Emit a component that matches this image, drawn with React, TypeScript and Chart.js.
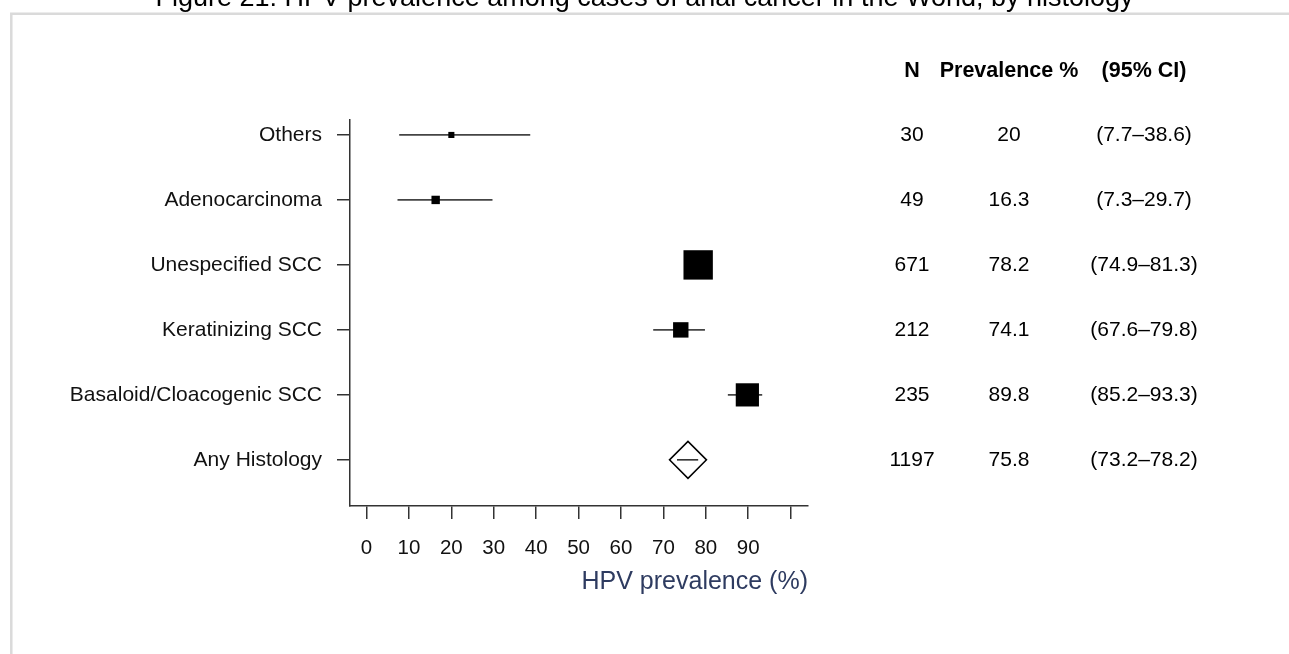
import { useEffect, useRef } from 'react';
import { Chart, registerables } from 'chart.js';

Chart.register(...registerables);

// ---- data ----
const categories = [
  'Others',
  'Adenocarcinoma',
  'Unespecified SCC',
  'Keratinizing SCC',
  'Basaloid/Cloacogenic SCC',
  'Any Histology',
];
const nCases = [30, 49, 671, 212, 235, 1197];
const prevalence = [20, 16.3, 78.2, 74.1, 89.8, 75.8];
const ciLow = [7.7, 7.3, 74.9, 67.6, 85.2, 73.2];
const ciHigh = [38.6, 29.7, 81.3, 79.8, 93.3, 78.2];
const prevalenceLabels = ['20', '16.3', '78.2', '74.1', '89.8', '75.8'];
const ciLabels = ['(7.7–38.6)', '(7.3–29.7)', '(74.9–81.3)', '(67.6–79.8)', '(85.2–93.3)', '(73.2–78.2)'];
const tableHeaders = ['N', 'Prevalence %', '(95% CI)'];
const xTickValues = [0, 10, 20, 30, 40, 50, 60, 70, 80, 90, 100];
const xTickLabels = ['0', '10', '20', '30', '40', '50', '60', '70', '80', '90', ''];
const summaryCategory = 'Any Histology';
const titleText = 'Figure 21: HPV prevalence among cases of anal cancer in the World, by histology';
const xAxisTitle = 'HPV prevalence (%)';

const FONT = '"Liberation Sans", Arial, Helvetica, sans-serif';
const W = 1289;
const H = 654;

export default function App() {
  const ref = useRef<HTMLCanvasElement>(null);

  useEffect(() => {
    document.body.style.margin = '0';
    Chart.defaults.font.family = FONT;
    const summaryIdx = categories.indexOf(summaryCategory);
    const studyIdx = categories.map((_, i) => i).filter((i) => i !== summaryIdx);

    const ciDatasets = categories.map((_, i) => ({
      type: 'line' as const,
      data: [
        { x: ciLow[i], y: i },
        { x: ciHigh[i], y: i },
      ],
      borderColor: i === summaryIdx ? '#000000' : '#444444',
      borderWidth: i === summaryIdx ? 1.3 : 1.8,
      pointRadius: 0,
      order: 2,
    }));

    const squares = {
      type: 'scatter' as const,
      data: studyIdx.map((i) => ({ x: prevalence[i], y: i })),
      pointStyle: 'rect',
      pointRadius: (ctx: any) => {
        const i = studyIdx[ctx.dataIndex];
        if (i === undefined) return 0;
        return 188 / (ciHigh[i] - ciLow[i]) / Math.SQRT2;
      },
      backgroundColor: '#000000',
      borderWidth: 0,
      order: 1,
    };

    const diamond = {
      type: 'scatter' as const,
      data: [{ x: prevalence[summaryIdx], y: summaryIdx }],
      pointStyle: 'rectRot',
      pointRadius: 18.5,
      backgroundColor: '#ffffff',
      borderColor: '#000000',
      borderWidth: 1.5,
      order: 3,
    };

    const decorPlugin = {
      id: 'decor',
      beforeDraw(chart: any) {
        const c = chart.ctx;
        c.save();
        c.strokeStyle = '#dadada';
        c.lineWidth = 2.5;
        c.beginPath();
        c.moveTo(11.3, H);
        c.lineTo(11.3, 13.7);
        c.lineTo(W, 13.7);
        c.stroke();
        // title (partly clipped at the top)
        c.fillStyle = '#000000';
        c.font = `27px ${FONT}`;
        c.textAlign = 'center';
        c.textBaseline = 'alphabetic';
        c.fillText(titleText, W / 2, 5.5);
        c.restore();
      },
      afterDraw(chart: any) {
        const c = chart.ctx;
        const ys = chart.scales.y;
        const right = chart.chartArea.right;
        const cols = [right + 104, right + 201, right + 336];
        c.save();
        c.fillStyle = '#000000';
        c.textAlign = 'center';
        c.textBaseline = 'middle';
        c.font = `bold 21.5px ${FONT}`;
        const hy = ys.getPixelForValue(-1) + 1.5;
        tableHeaders.forEach((h, k) => c.fillText(h, cols[k], hy));
        c.font = `21px ${FONT}`;
        categories.forEach((_, i) => {
          const y = ys.getPixelForValue(i) + 0.5;
          c.fillText(String(nCases[i]), cols[0], y);
          c.fillText(prevalenceLabels[i], cols[1], y);
          c.fillText(ciLabels[i], cols[2], y);
        });
        c.restore();
      },
    };

    const chart = new Chart(ref.current as HTMLCanvasElement, {
      type: 'scatter',
      data: { datasets: [...ciDatasets, squares, diamond] as any },
      options: {
        responsive: false,
        animation: false,
        events: [],
        layout: { padding: { top: 120, right: W - 808, left: 0, bottom: 0 } },
        plugins: { legend: { display: false }, tooltip: { enabled: false }, title: { display: false } },
        scales: {
          x: {
            type: 'linear',
            min: -3.9,
            max: 104.1,
            afterBuildTicks: (s: any) => {
              s.ticks = xTickValues.map((v) => ({ value: v }));
            },
            afterFit: (s: any) => {
              s.height = H - 506;
            },
            ticks: {
              autoSkip: false,
              maxRotation: 0,
              padding: 17,
              color: '#111111',
              font: { size: 20.5 },
              callback: (_v: any, idx: number) => xTickLabels[idx],
            },
            grid: {
              display: true,
              drawOnChartArea: false,
              drawTicks: true,
              tickLength: 13,
              color: '#333333',
              lineWidth: 1.5,
            },
            border: { display: true, color: '#333333', width: 1.5 },
            title: {
              display: true,
              text: xAxisTitle,
              align: 'end',
              color: '#2e3b60',
              font: { size: 25 },
              padding: { top: 0, bottom: 57 },
            },
          },
          y: {
            type: 'linear',
            reverse: true,
            min: -0.23,
            max: 5.71,
            afterBuildTicks: (s: any) => {
              s.ticks = categories.map((_, i) => ({ value: i }));
            },
            afterFit: (s: any) => {
              s.width = 350;
            },
            ticks: {
              autoSkip: false,
              padding: 15,
              color: '#111111',
              font: { size: 21 },
              callback: (v: any) => categories[Math.round(Number(v))],
            },
            grid: {
              display: true,
              drawOnChartArea: false,
              drawTicks: true,
              tickLength: 13,
              color: '#333333',
              lineWidth: 1.5,
            },
            border: { display: true, color: '#333333', width: 1.5 },
          },
        },
      },
      plugins: [decorPlugin],
    });

    return () => chart.destroy();
  }, []);

  return (
    <div style={{ width: W, height: H, position: 'relative' }}>
      <canvas ref={ref} width={W} height={H} style={{ display: 'block' }} />
    </div>
  );
}
